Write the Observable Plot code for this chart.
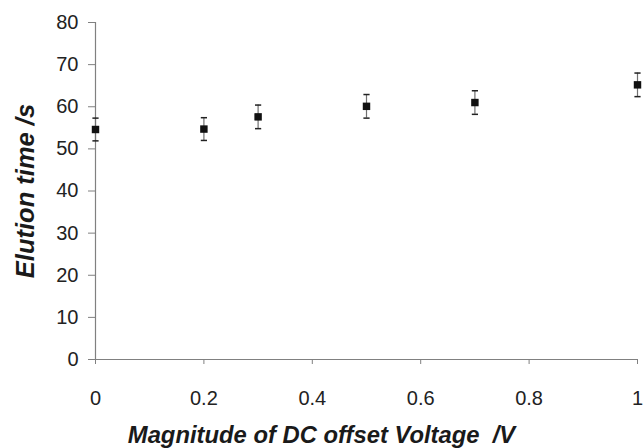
<!DOCTYPE html>
<html><head><meta charset="utf-8">
<script src="https://cdn.jsdelivr.net/npm/d3@7"></script>
<script src="https://cdn.jsdelivr.net/npm/@observablehq/plot@0.6"></script>
<style>
html,body{margin:0;padding:0;background:#fff;}
svg text{font-family:"Liberation Sans",Arial,sans-serif !important;}
g[aria-label="x-axis tick label"] text, g[aria-label="y-axis tick label"] text{font-size:20px !important;fill:#222;}
g[aria-label="x-axis label"] text{font-weight:bold !important;font-style:italic !important;font-size:23.8px !important;fill:#1a1a1a;}
g[aria-label="y-axis label"] text{font-weight:bold !important;font-style:italic !important;font-size:25.5px !important;fill:#1a1a1a;}
</style>
</head><body><div id="chart"></div>
<script>
const voltage = [0, 0.2, 0.3, 0.5, 0.7, 1.0];
const elution = [54.6, 54.7, 57.6, 60.1, 61.0, 65.2];
const errorVal = [2.7, 2.7, 2.8, 2.8, 2.8, 2.8];
const xTicks = [0, 0.2, 0.4, 0.6, 0.8, 1];
const yTicks = [0, 10, 20, 30, 40, 50, 60, 70, 80];

const data = voltage.map((v, i) => ({x: v, y: elution[i], lo: elution[i] - errorVal[i], hi: elution[i] + errorVal[i]}));

const capSymbol = {draw(ctx, size) { const w = Math.sqrt(size) / 2; ctx.moveTo(-w, 0); ctx.lineTo(w, 0); }};

const chart = Plot.plot({
  width: 643, height: 448,
  marginLeft: 95, marginRight: 6, marginTop: 22, marginBottom: 89,
  style: {fontSize: "16px", color: "#222"},
  x: {domain: [0, 1], ticks: xTicks, tickFormat: d => String(d), tickSize: 5, tickPadding: 26,
      label: "Magnitude of DC offset Voltage  /V", labelAnchor: "center", labelArrow: "none", labelOffset: 83},
  y: {domain: [0, 80], ticks: yTicks, tickSize: 7, tickPadding: 10,
      label: "Elution time /s", labelAnchor: "center", labelArrow: "none", labelOffset: 80},
  marks: [
    Plot.ruleY([0], {stroke: "#808080", strokeWidth: 1.2}),
    Plot.ruleX([0], {stroke: "#808080", strokeWidth: 1.2}),
    Plot.ruleX(data, {x: "x", y1: "lo", y2: "hi", stroke: "#707070", strokeWidth: 1.2}),
    Plot.dot(data, {x: "x", y: "lo", symbol: capSymbol, r: 3.5, stroke: "#222", strokeWidth: 1.5, fill: "none"}),
    Plot.dot(data, {x: "x", y: "hi", symbol: capSymbol, r: 3.5, stroke: "#222", strokeWidth: 1.5, fill: "none"}),
    Plot.dot(data, {x: "x", y: "y", symbol: "square", r: 4.2, fill: "#111", stroke: "none"})
  ]
});
chart.querySelectorAll('g[aria-label="x-axis tick"] path, g[aria-label="y-axis tick"] path').forEach(p => p.setAttribute("stroke", "#808080"));
const xl = chart.querySelector('g[aria-label="x-axis label"]');
if (xl) xl.setAttribute("transform", "translate(-45,0) " + (xl.getAttribute("transform") || ""));
document.getElementById("chart").appendChild(chart);
</script>
</body></html>
